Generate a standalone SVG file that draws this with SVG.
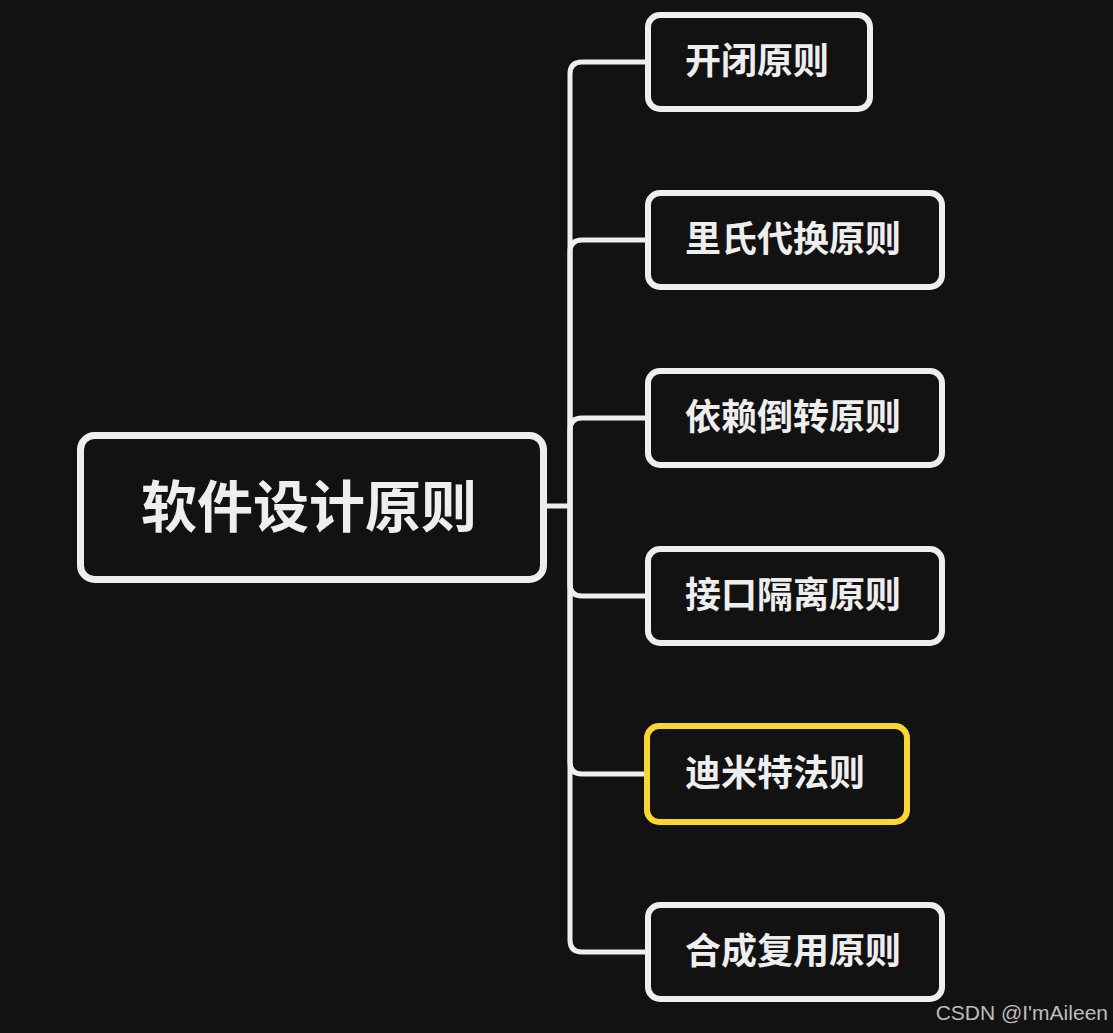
<svg xmlns="http://www.w3.org/2000/svg" width="1113" height="1033" viewBox="0 0 1113 1033">
<style>
.box{fill:#121212;stroke:#eeeeee;stroke-width:6}
.root{fill:#121212;stroke:#eeeeee;stroke-width:7}
.sel{fill:#121212;stroke:#fbd532;stroke-width:6}
.t{font-family:"Noto Sans CJK SC","Noto Sans",sans-serif;font-weight:700;fill:#eeeeee;text-anchor:middle}
.c{font-size:36px}
.r{font-size:56px}
.conn path{fill:none;stroke:#eeeeee;stroke-width:5}
</style>
<rect x="0" y="0" width="1113" height="1033" fill="#121212"/>
<g class="conn" id="connectors">
<path d="M547 506 H570"/>
<path d="M570 506 V74 Q570 62 582 62 H648"/>
<path d="M570 506 V252 Q570 240 582 240 H648"/>
<path d="M570 506 V430 Q570 418 582 418 H648"/>
<path d="M570 506 V584 Q570 596 582 596 H648"/>
<path d="M570 506 V762 Q570 774 582 774 H648"/>
<path d="M570 506 V940 Q570 952 582 952 H648"/>
</g>
<g id="root">
<rect class="root" x="80.5" y="435.5" width="463" height="144" rx="14"/>
<text class="t r" x="309" y="527">软件设计原则</text>
</g>
<g id="n1">
<rect class="box" x="648" y="15" width="222" height="94" rx="12"/>
<text class="t c" x="757" y="74">开闭原则</text>
</g>
<g id="n2">
<rect class="box" x="648" y="193" width="294" height="94" rx="12"/>
<text class="t c" x="793" y="252">里氏代换原则</text>
</g>
<g id="n3">
<rect class="box" x="648" y="371" width="294" height="94" rx="12"/>
<text class="t c" x="793" y="430">依赖倒转原则</text>
</g>
<g id="n4">
<rect class="box" x="648" y="549" width="294" height="94" rx="12"/>
<text class="t c" x="793" y="608">接口隔离原则</text>
</g>
<g id="n5">
<rect class="sel" x="647" y="726" width="260" height="96" rx="12"/>
<text class="t c" x="775" y="786">迪米特法则</text>
</g>
<g id="n6">
<rect class="box" x="648" y="905" width="294" height="94" rx="12"/>
<text class="t c" x="793" y="964">合成复用原则</text>
</g>
<text x="1108" y="1020" font-family="Liberation Sans, Arial, sans-serif" font-size="21" fill="#bdbdbd" text-anchor="end">CSDN @I'mAileen</text>
</svg>
